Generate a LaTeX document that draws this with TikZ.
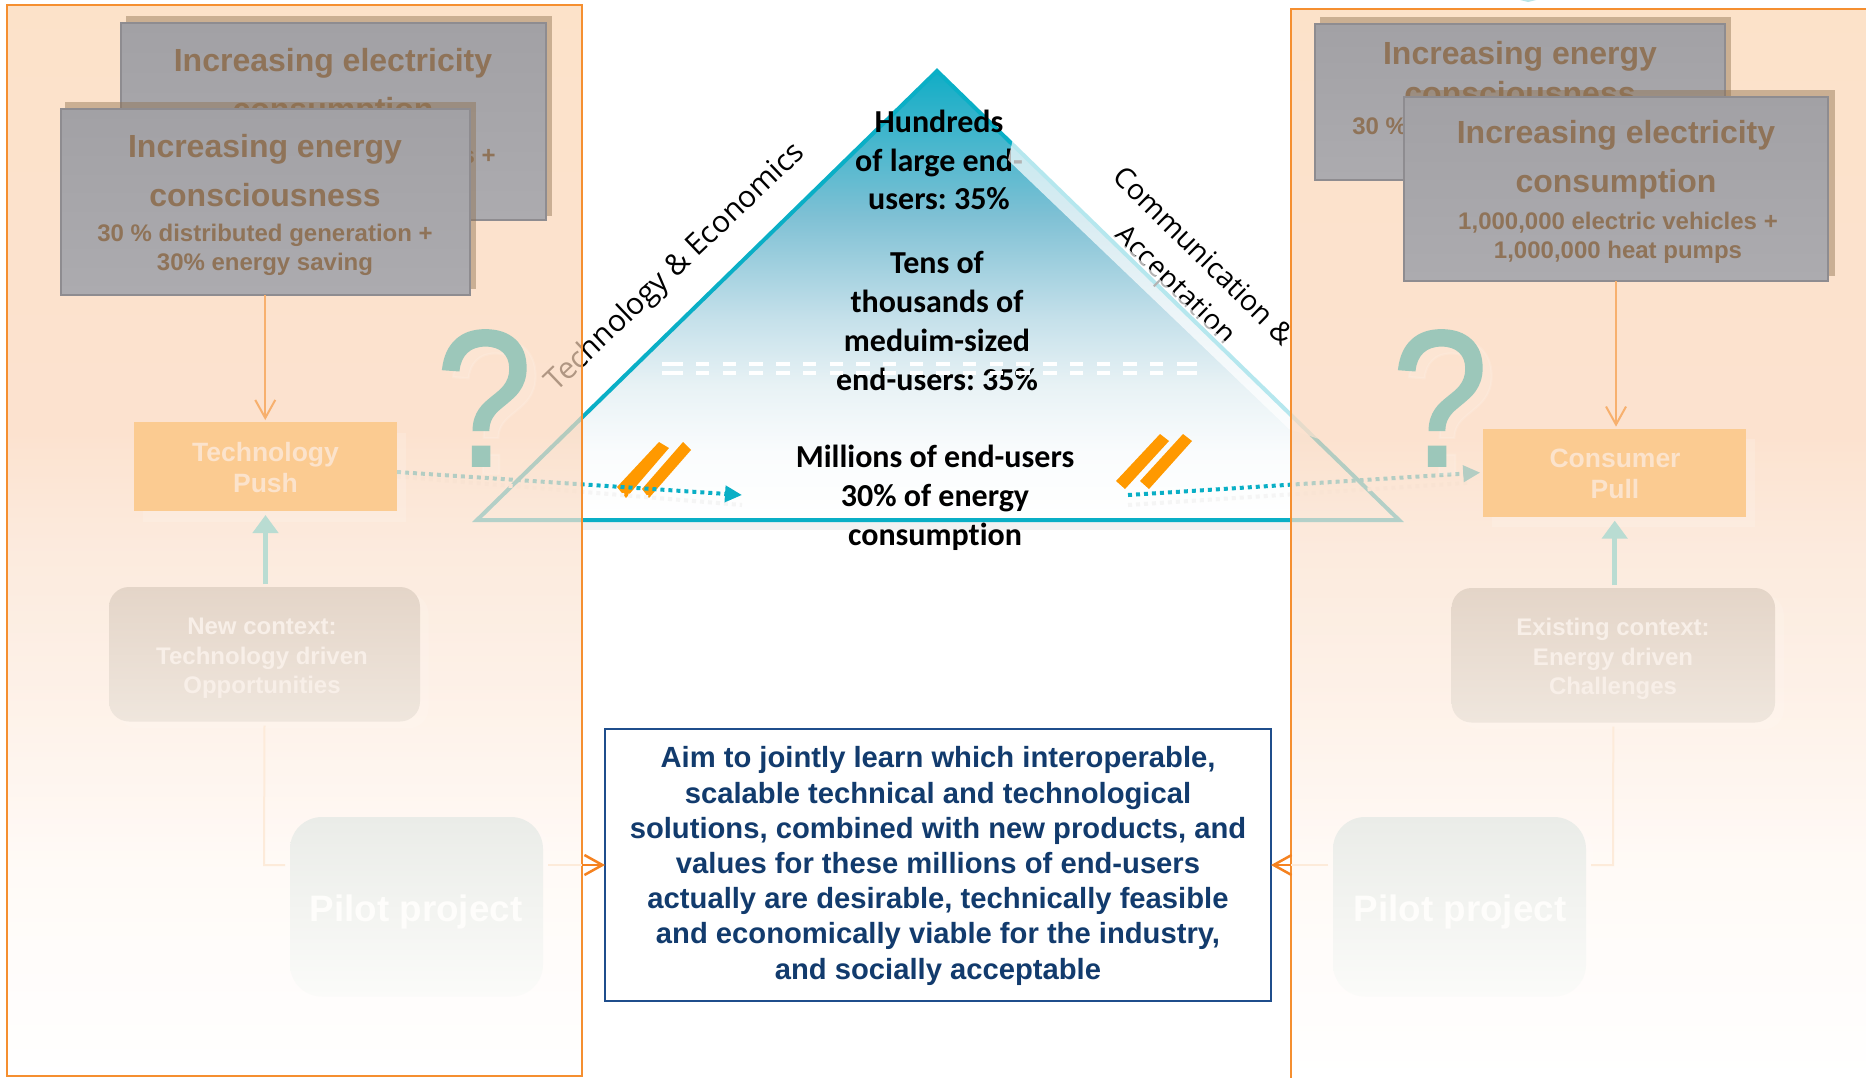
\documentclass[tikz,border=0pt]{standalone}
\usepackage{fontspec}
\usepackage{graphicx}
\setmainfont{Liberation Sans}
\newfontfamily\carl[Ligatures=NoCommon]{Carlito}
\newfontfamily\opn[Ligatures=NoCommon]{Open Sans}
\newfontfamily\qfont[FakeBold=1.2]{Liberation Sans}
\frenchspacing
\usetikzlibrary{arrows.meta,positioning,calc}
\definecolor{tealc}{HTML}{0AAFC6}
\definecolor{paletl}{HTML}{B9DCD2}
\definecolor{qteal}{HTML}{9CC7BA}
\definecolor{panelor}{HTML}{F58F30}
\definecolor{orbar}{HTML}{FF9900}
\definecolor{orarr}{HTML}{F58220}
\definecolor{lnor}{HTML}{F7B06E}
\definecolor{faintl}{HTML}{FDEBDA}
\definecolor{gtext}{HTML}{8F7358}
\definecolor{gbord}{HTML}{8E8C90}
\definecolor{shadc}{HTML}{8F7150}
\definecolor{pushf}{HTML}{FBCB91}
\definecolor{pusht}{HTML}{FBE3CC}
\definecolor{ctxt}{HTML}{F8EFE8}
\definecolor{pilott}{HTML}{FEFDFB}
\definecolor{aimc}{HTML}{123B6D}
\definecolor{aimb}{HTML}{1F4E8C}
\definecolor{pa}{HTML}{FFF9F4}
\definecolor{pb}{HTML}{FEEEE2}
\definecolor{pc}{HTML}{FBE2CF}
\definecolor{pd}{HTML}{FBD7BC}
\definecolor{pe}{HTML}{FBD6B3}
\definecolor{ya}{HTML}{FAFCFD}
\definecolor{yb}{HTML}{E8F2F5}
\definecolor{yc}{HTML}{C4E0EA}
\definecolor{yd}{HTML}{7EC0D4}
\definecolor{ye}{HTML}{11ADC6}
\definecolor{grt}{HTML}{A2A1A5}
\definecolor{grb}{HTML}{ACABAF}
\definecolor{ctt}{HTML}{E4D5C8}
\definecolor{ctb}{HTML}{EFE6DD}
\definecolor{plt}{HTML}{EAECE8}
\definecolor{plb}{HTML}{FBFBF9}
\definecolor{sliver}{HTML}{B8E5E8}
\pgfdeclareverticalshading{panelshade}{100bp}{
 color(0bp)=(white); color(25bp)=(white);
 color(34.6bp)=(pa);
 color(41.5bp)=(pb);
 color(49.9bp)=(pc);
 color(55bp)=(pd);
 color(75bp)=(pe);
 color(100bp)=(pe)}
\pgfdeclareverticalshading{pyrshade}{100bp}{
 color(0bp)=(white); color(25bp)=(white);
 color(32.5bp)=(ya);
 color(40bp)=(yb);
 color(47.6bp)=(yc);
 color(59bp)=(yd);
 color(75bp)=(ye);
 color(100bp)=(ye)}
\tikzset{
 x=0.5pt,y=-0.5pt,
 sized/.style 2 args={minimum width=#1*0.5pt,minimum height=#2*0.5pt,inner sep=0pt,outer sep=0pt},
 greybox/.style={draw=gbord,line width=1pt,top color=grt,bottom color=grb},
 shadbox/.style={fill=shadc,opacity=.45},
 gtitle/.style={font=\bfseries\fontsize{16}{24.5}\selectfont,text=gtext,align=center,inner sep=0pt},
 gsub/.style={font=\bfseries\fontsize{12}{14.5}\selectfont,text=gtext,align=center,inner sep=0pt},
 pushbox/.style={fill=pushf},
 pushshad/.style={fill=white,opacity=.15},
 pushtext/.style={font=\bfseries\fontsize{13.25}{15.5}\selectfont,text=pusht,align=center,inner sep=0pt},
 ctxbox/.style={rounded corners=10pt,top color=ctt,bottom color=ctb},
 ctxtext/.style={font=\bfseries\fontsize{12}{14.8}\selectfont,text=ctxt,align=center,inner sep=0pt},
 pilotbox/.style={rounded corners=16pt,top color=plt,bottom color=plb},
 pilottext/.style={font=\bfseries\fontsize{18.4}{22}\selectfont,text=pilott,inner sep=0pt},
 softline/.style={draw=faintl,line width=1pt},
 vtip/.style={-{Straight Barb[length=9pt,width=10pt]}},
 qmark/.style={font=\qfont\fontsize{97}{97}\selectfont,text=qteal,inner sep=0pt},
 qshad/.style={font=\qfont\fontsize{97}{97}\selectfont,text=white,opacity=.12,inner sep=0pt},
 upar/.style={draw=paletl,line width=2.5pt,-{Triangle[length=9pt,width=12.5pt]}},
 dotted line/.style={draw=tealc,line width=2pt,dash pattern=on 2pt off 2pt,-{Triangle[length=8.5pt,width=8pt]}},
 pyrtext/.style={font=\carl\bfseries\fontsize{16}{19.4}\selectfont,text=black,align=center,inner sep=0pt},
 sidetext/.style={font=\opn\fontsize{15}{20}\selectfont,text=black,align=center,inner sep=0pt},
 sidetextb/.style={font=\opn\fontsize{14.2}{20}\selectfont,text=black,align=center,inner sep=0pt},
 barfill/.style={fill=orbar},
 panelborder/.style={draw=panelor,line width=1pt},
 panelfill/.style={shading=panelshade,opacity=.7},
 whitedash/.style={white,line width=2.15pt,dash pattern=on 6.7pt off 6.65pt},
 whitestub/.style={white,line width=2.15pt},
}
\begin{document}
\begin{tikzpicture}
\useasboundingbox (0,0) rectangle (1866,1077);
\clip (0,0) rectangle (1866,1077);
\fill[white] (0,0) rectangle (1866,1077);
% sliver at the top edge
\fill[sliver] (1508,-3) -- (1548,-3) -- (1528,2) -- cycle;
% pyramid
\coordinate (apex) at (937,71);
\coordinate (bl) at (477,520);
\coordinate (br) at (1399,520);
\fill[fill=black!5] (582,522) rectangle (1291,530);
\shade[shading=pyrshade] (apex) -- (br) -- (bl) -- cycle;
\draw[tealc,line width=2pt,line join=miter] (apex) -- (br) -- (bl) -- cycle;
% labels
\node[sidetext,rotate=43.7] (techlab) at (676,268) {Technology \& Economics};
\node[sidetextb,rotate=-44.5] (commlab) at (1188,272) {Communication \&\\Acceptation};
\node[pyrtext] (top) at (939,160) {Hundreds\\of large end-\\users: 35\%};
\node[pyrtext] (mid) at (937,321) {Tens of\\thousands of\\meduim-sized\\end-users: 35\%};
\node[pyrtext] (low) at (935,497.5) {Millions of end-users\\30\% of energy\\consumption};
% white double dashes
\coordinate (da) at (669.3,364); \coordinate (db) at (1177,364);
\coordinate (dc) at (669.3,373); \coordinate (dd) at (1177,373);
\draw[whitedash] (da) -- (db);
\draw[whitedash] (dc) -- (dd);
\coordinate (sa) at (662,364); \coordinate (sb) at (682,364);
\coordinate (sc) at (662,373); \coordinate (sd) at (682,373);
\coordinate (se) at (1177,364); \coordinate (sf) at (1197,364);
\coordinate (sg) at (1177,373); \coordinate (sh) at (1197,373);
\draw[whitestub] (sa) -- (sb); \draw[whitestub] (sc) -- (sd);
\draw[whitestub] (se) -- (sf); \draw[whitestub] (sg) -- (sh);
% pale strip on the right flank
\fill[white,opacity=.7] (1013,139) -- (1322,434) -- (1322,440) -- (1289,429) -- (1008,160) -- cycle;
% orange bars
\fill[barfill] (659,442) -- (669,448) -- (626,498) -- (617,487) -- cycle;
\fill[barfill] (683,442) -- (691,450) -- (649,498) -- (642,489) -- cycle;
\fill[barfill] (1160,434) -- (1169,441) -- (1125,489) -- (1116,481) -- cycle;
\fill[barfill] (1183,434) -- (1192,441) -- (1149,489) -- (1140,481) -- cycle;
% anchors of the push boxes, named first so that the dotted connectors can use them
\path (265.5,466.5) node[sized={263}{89}] (tpa) {};
\path (1614.7,472.6) node[sized={263}{88}] (cpa) {};
\coordinate (ltip) at (742,495);
\coordinate (rstart) at (1128,495);
% dotted arrows (under the panels)
\draw[black!4,line width=2pt,dash pattern=on 2pt off 2pt] ([yshift=-5pt]tpa.east) -- ([yshift=-5pt]ltip);
\draw[black!4,line width=2pt,dash pattern=on 2pt off 2pt] ([yshift=-5pt]rstart) -- ([yshift=-5pt,xshift=-6pt]cpa.west);
\draw[dotted line] ([yshift=-2.75pt]tpa.east) -- (ltip);
\draw[dotted line] (rstart) -- ([xshift=-1.5pt]cpa.west);
% centre box
\node[sized={666}{272},draw=aimb,line width=1pt,fill=white] (aim) at (938,865) {};
\node[font=\bfseries\fontsize{14.6}{17.6}\selectfont,text=aimc,align=center,inner sep=0pt] (aimtext) at (938,866)
 {Aim to jointly learn which interoperable,\\scalable technical and technological\\solutions, combined with new products, and\\values for these millions of end-users\\actually are desirable, technically feasible\\and economically viable for the industry,\\and socially acceptable};
% panels (translucent, over what lies beneath)
\shade[panelfill] (7,5) rectangle (582,1076);
\shade[panelfill] (1291,9) rectangle (1880,1077);
\draw[panelborder] (7,5) rectangle (582,1076);
\draw[panelborder] (1880,9) -- (1291,9) -- (1291,1090);
% LEFT panel
\node[sized={426}{200},shadbox] (ls1) at (339,116) {};
\node[sized={425}{197},greybox] (lb1) at (333.5,121.5) {};
\node[gtitle] (lb1t) at (333,87.5) {Increasing electricity\\consumption};
\node[gsub] (lb1s) at (336,172) {1,000,000 electric vehicles +\\1,000,000 heat pumps};
\node[sized={411}{187},shadbox] (ls2) at (270.5,195.5) {};
\node[sized={409.5}{186},greybox] (lb2) at (265.25,202) {};
\node[gtitle] (lb2t) at (265,171) {Increasing energy\\consciousness};
\node[gsub] (lb2s) at (265,250) {30 \% distributed generation +\\30\% energy saving};
\node[sized={263}{89},pushshad] (tps) at (274,477) {};
\node[sized={263}{89},pushbox] (tp) at (265.5,466.5) {};
\node[pushtext] (tpt) at (265.5,468) {Technology\\Push};
\draw[lnor,line width=1pt,vtip] (lb2.south) -- ([yshift=1pt]lb2.south |- tp.north);
\node[qshad] (lqs) at (494,406) {\scalebox{.89}[1]{?}};
\node[qmark] (lq) at (484,398) {\scalebox{.89}[1]{?}};
\node[sized={311}{134.5},fill=white,opacity=.12,rounded corners=10pt] (ncs) at (273,661) {};
\node[sized={311}{134.5},ctxbox] (nc) at (264.5,654.25) {};
\node[ctxtext] (nct) at (262,658.5) {New context:\\Technology driven\\Opportunities};
\draw[upar] ([yshift=1.5pt]tp.south |- nc.north) -- ([yshift=-2pt]tp.south);
\coordinate (lc) at (264,865);
\node[sized={253}{179.5},fill=white,opacity=.12,rounded corners=16pt] (ps1) at (424,912) {};
\node[sized={253}{179.5},pilotbox] (pl) at (416.5,906.75) {};
\node[pilottext] (plt) at (416,911.5) {Pilot project};
\draw[softline] ([yshift=-2pt]nc.south) -- (lc) -- ([xshift=-2.5pt]pl.west |- lc);
\coordinate (ledge) at (582,865);
\draw[softline] ([xshift=2.5pt]pl.east |- lc) -- (ledge);
\draw[orarr,line width=1.25pt,vtip] (ledge) -- (aim.west |- ledge);
% RIGHT panel
\node[sized={411}{163},shadbox] (rs1) at (1525.5,98.5) {};
\node[sized={410}{156},greybox] (rb1) at (1520,101.5) {};
\node[gtitle,font=\bfseries\fontsize{16}{20}\selectfont] (rb1t) at (1520,73.5) {Increasing energy\\consciousness};
\node[gsub] (rb1s) at (1520,142.5) {30 \% distributed generation +\\30\% energy saving};
\node[sized={425}{186.5},shadbox] (rs2) at (1622.5,182.75) {};
\node[sized={424}{184.5},greybox] (rb2) at (1616,188.75) {};
\node[gtitle] (rb2t) at (1616,160) {Increasing electricity\\consumption};
\node[gsub] (rb2s) at (1618,237.5) {1,000,000 electric vehicles +\\1,000,000 heat pumps};
\node[sized={263}{88},pushshad] (cps) at (1623,483) {};
\node[sized={263}{88},pushbox] (cp) at (1614.7,472.6) {};
\node[pushtext] (cpt) at (1615,474) {Consumer\\Pull};
\draw[lnor,line width=1pt,vtip] (rb2.south) -- ([yshift=1pt]rb2.south |- cp.north);
\node[qshad] (rqs) at (1450,406) {\scalebox{.89}[1]{?}};
\node[qmark] (rq) at (1440,398) {\scalebox{.89}[1]{?}};
\node[sized={323.5}{134.5},fill=white,opacity=.12,rounded corners=10pt] (ecs) at (1622,662) {};
\node[sized={323.5}{134.5},ctxbox] (ec) at (1613.3,655.25) {};
\node[ctxtext] (ect) at (1613,659) {Existing context:\\Energy driven\\Challenges};
\draw[upar] ([yshift=1.5pt]cp.south |- ec.north) -- ([yshift=-2pt]cp.south);
\coordinate (rc) at (1613,865);
\node[sized={253}{179.5},fill=white,opacity=.12,rounded corners=16pt] (ps2) at (1467,912) {};
\node[sized={253}{179.5},pilotbox] (pr) at (1459.5,906.75) {};
\node[pilottext] (prt) at (1460,911.5) {Pilot project};
\draw[softline] ([yshift=-2pt]ec.south) -- (rc) -- ([xshift=2.5pt]pr.east |- rc);
\coordinate (redge) at (1291,865);
\draw[softline] ([xshift=-2.5pt]pr.west |- rc) -- (redge);
\draw[orarr,line width=1.25pt,vtip] (redge) -- (aim.east |- redge);
\end{tikzpicture}
\end{document}
